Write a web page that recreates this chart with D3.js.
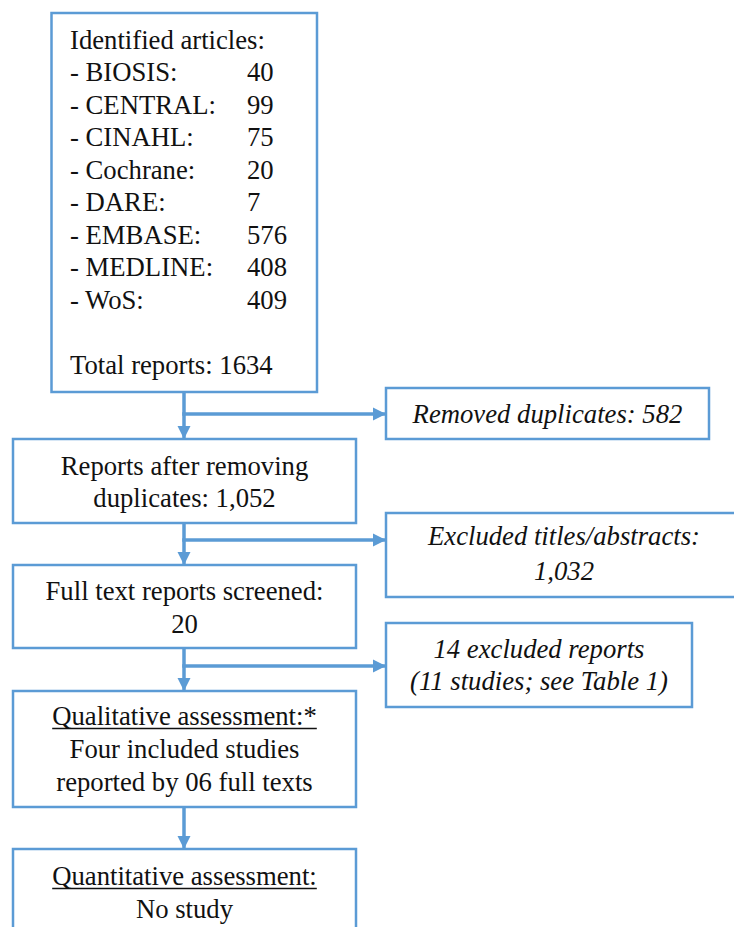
<!DOCTYPE html>
<html>
<head>
<meta charset="utf-8">
<script src="https://cdn.jsdelivr.net/npm/d3@7"></script>
</head>
<body style="margin:0;background:#fff">
<div id="chart"></div>
<script>
// data
var sources = ["BIOSIS","CENTRAL","CINAHL","Cochrane","DARE","EMBASE","MEDLINE","WoS"];
var sourceCounts = [40,99,75,20,7,576,408,409];
var totalReports = 1634;

var stageIds = ["ident","dedup","full","qual","quant"];
var stageLines = [
  null,
  ["Reports after removing","duplicates: 1,052"],
  ["Full text reports screened:","20"],
  ["Qualitative assessment:*","Four included studies","reported by 06 full texts"],
  ["Quantitative assessment:","No study"]
];
var stageUnderline = [false,false,false,true,true];

var exclIds = ["dupl","titles","reports"];
var exclLines = [
  ["Removed duplicates: 582"],
  ["Excluded titles/abstracts:","1,032"],
  ["14 excluded reports","(11 studies; see Table 1)"]
];

// layout (pixels)
var W = 734, H = 927;
var BLUE = "#5b9bd5", INK = "#111";
var FONT = "'Liberation Serif','Times New Roman',serif";
var stageBox = {
  ident:{x:51.5,y:13,w:265.5,h:379},
  dedup:{x:13,y:439,w:343,h:84},
  full:{x:13,y:565,w:343,h:83},
  qual:{x:13,y:691,w:343,h:116},
  quant:{x:13,y:849,w:343,h:100}
};
var stageBase = {
  dedup:[475,507],
  full:[600,633],
  qual:[725,758,791],
  quant:[885,918]
};
var exclBox = {
  dupl:{x:386,y:388,w:323,h:51},
  titles:{x:386,y:513,w:356,h:84},
  reports:{x:386,y:623,w:306,h:84}
};
var exclBase = { dupl:[423], titles:[545,580], reports:[658,690] };
var branchY = [414,540,666];
var stemX = 184;

var svg = d3.select("#chart").append("svg")
  .attr("width",W).attr("height",H)
  .style("display","block").style("overflow","hidden");

svg.append("rect").attr("width",W).attr("height",H).attr("fill","#fff");

var defs = svg.append("defs");
defs.append("marker").attr("id","ah")
  .attr("viewBox","0 0 10 10").attr("refX",10).attr("refY",5)
  .attr("markerUnits","userSpaceOnUse")
  .attr("markerWidth",13).attr("markerHeight",14)
  .attr("orient","auto")
  .append("path").attr("d","M0,0L10,5L0,10Z").attr("fill",BLUE);

// connectors
var gLinks = svg.append("g");
for (var i = 0; i < stageIds.length-1; i++) {
  var a = stageBox[stageIds[i]], b = stageBox[stageIds[i+1]];
  gLinks.append("line")
    .attr("x1",stemX).attr("y1",a.y+a.h)
    .attr("x2",stemX).attr("y2",b.y)
    .attr("stroke",BLUE).attr("stroke-width",3.5)
    .attr("marker-end","url(#ah)");
}
branchY.forEach(function(y,k){
  gLinks.append("line")
    .attr("x1",stemX-1.75).attr("y1",y)
    .attr("x2",exclBox[exclIds[k]].x).attr("y2",y)
    .attr("stroke",BLUE).attr("stroke-width",3.5)
    .attr("marker-end","url(#ah)");
});

// boxes
var gBox = svg.append("g");
stageIds.forEach(function(id){
  var b = stageBox[id];
  gBox.append("rect").attr("x",b.x).attr("y",b.y).attr("width",b.w).attr("height",b.h)
    .attr("fill","#fff").attr("stroke",BLUE).attr("stroke-width",2.5);
});
exclIds.forEach(function(id){
  var b = exclBox[id];
  gBox.append("rect").attr("x",b.x).attr("y",b.y).attr("width",b.w).attr("height",b.h)
    .attr("fill","#fff").attr("stroke",BLUE).attr("stroke-width",2.5);
});

var gTxt = svg.append("g");
function label(x,y,str,anchor,italic){
  return gTxt.append("text")
    .attr("x",x).attr("y",y)
    .attr("text-anchor",anchor||"start")
    .style("font-family",FONT)
    .style("font-size","26.7px")
    .style("font-style",italic ? "italic" : "normal")
    .style("fill",INK)
    .text(str);
}

// first box: database list
var rowY = d3.scaleLinear().domain([0,1]).range([48.5,81]);
label(70,rowY(0),"Identified articles:");
sources.forEach(function(s,i){
  label(70,rowY(i+1),"- "+s+":");
  label(247,rowY(i+1),sourceCounts[i]);
});
label(70,rowY(sources.length+2),"Total reports: "+totalReports);

// stage boxes text
stageIds.forEach(function(id,k){
  if(!stageLines[k]) return;
  var b = stageBox[id], cx = b.x+b.w/2;
  stageLines[k].forEach(function(line,j){
    var t = label(cx,stageBase[id][j],line,"middle");
    if(j==0 && stageUnderline[k]){
      var len = t.node().getComputedTextLength();
      gTxt.append("line")
        .attr("x1",cx-len/2).attr("x2",cx+len/2)
        .attr("y1",stageBase[id][j]+3.5).attr("y2",stageBase[id][j]+3.5)
        .attr("stroke",INK).attr("stroke-width",1.4);
    }
  });
});

// exclusion boxes text
exclIds.forEach(function(id,k){
  var b = exclBox[id], cx = b.x+b.w/2;
  exclLines[k].forEach(function(line,j){
    label(cx,exclBase[id][j],line,"middle",true);
  });
});
</script>
</body>
</html>
